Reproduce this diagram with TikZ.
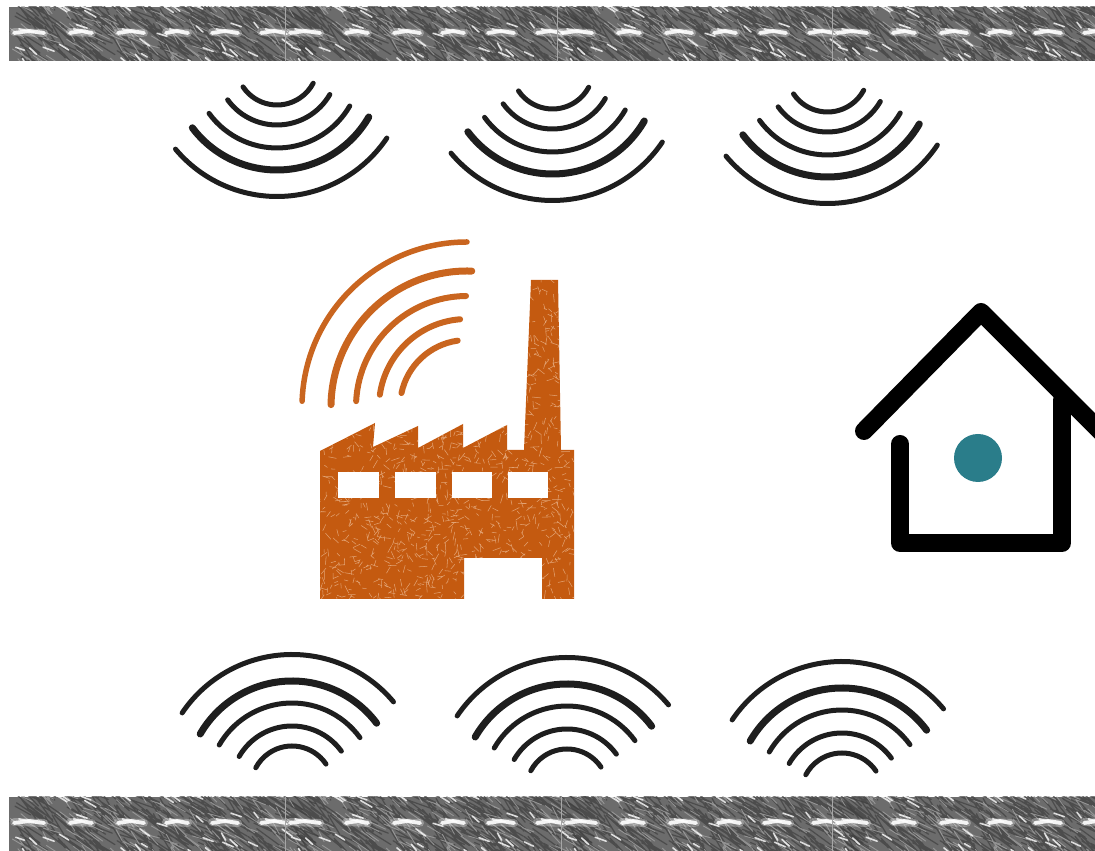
\documentclass[tikz,border=0pt]{standalone}
\definecolor{railgray}{HTML}{6C6C6C}
\definecolor{raildark}{HTML}{3F3F3F}
\definecolor{raillight}{HTML}{A6A6A6}
\definecolor{waveblack}{HTML}{1E1E1E}
\definecolor{factoryorange}{HTML}{C45A10}
\definecolor{factorylight}{HTML}{EDBB94}
\definecolor{waveorange}{HTML}{C9651F}
\definecolor{dotteal}{HTML}{2A7D8A}
\begin{document}
\begin{tikzpicture}[x=0.02cm, y=0.02cm, line join=round, line cap=round,
	streakdark/.style={raildark, line width=.7pt, opacity=.7},
	streaklight/.style={raillight, line width=.5pt, opacity=.75},
	streakwhite/.style={white, line width=.9pt, opacity=.8},
	houseline/.style={black, line width=18*0.02cm}]
	\useasboundingbox (0,0) rectangle (1095,851);
	% rails
	\foreach \ry/\sa/\sb/\sc in {790/285/557/832, 0/285/561/832} {
		\begin{scope}
			\clip (9,\ry) rectangle (1095,\ry+54);
			\fill[railgray] (9,\ry) rectangle (1095,\ry+54);
			\foreach \tx in {9,\sa,\sb,\sc} {
				\pgfmathsetseed{23}
				\draw[streakdark] foreach \i in {1,...,320} {({\tx+285*rnd},{\ry+70*rnd}) -- ++(-37:{14+26*rnd})};
				\draw[streaklight] foreach \i in {1,...,170} {({\tx+285*rnd},{\ry+65*rnd}) -- ++(-37:{6+16*rnd})};
				\draw[streakwhite] foreach \i in {1,...,30} {({\tx+285*rnd},{\ry+60*rnd}) -- ++(-35:{5+9*rnd})};
				\foreach \bx/\bw in {20/30,72/22,122/26,168/22,216/26,265/26} {
					\draw[white, line width=4.5pt, opacity=.3] ({\tx+\bx-\bw/2},\ry+29) -- ++({\bw},-1);
					\draw[white, line width=2.2pt, opacity=.9] ({\tx+\bx-\bw/2},\ry+28) -- ++({\bw/2},2) -- ++({\bw/2},-2);
					\draw[white, line width=1pt, opacity=.8] ({\tx+\bx-\bw/3},\ry+32) -- ++({\bw/2},-3);
				}
			}
		\end{scope}
		\foreach \tx in {\sa,\sb,\sc} \draw[raillight, line width=.5pt] (\tx,\ry) -- (\tx,\ry+54);
	}
	% waves over and under the rails
	\foreach \x/\y in {277/787,552.5/783,827.5/780} {
		\foreach \r/\a/\b/\w in {41/214/332/5,61/216/330/5,84/216/330/5,106/217/330/7,132.5/220/326/5}
			\draw[waveblack, line width=\w*0.02cm] (\x,\y) ++(\a:\r) arc (\a:\b:\r);
	}
	\foreach \x/\y in {292/64,567/61,842/57} {
		\foreach \r/\a/\b/\w in {41/34/152/5,61/36/150/5,84/36/150/5,106/37/150/7,132.5/40/146/5}
			\draw[waveblack, line width=\w*0.02cm] (\x,\y) ++(\a:\r) arc (\a:\b:\r);
	}
	% factory
	\begin{scope}
		\clip (320,252) -- (320,400) -- (375,428) -- (373,404) -- (418,425) -- (418,403) -- (463,427) -- (463,403)
			-- (507,426) -- (507,401) -- (524,401) -- (531,571) -- (558,571) -- (561,401) -- (574,401) -- (574,252)
			-- (542,252) -- (542,293) -- (464,293) -- (464,252) -- cycle;
		\fill[factoryorange] (310,240) rectangle (585,580);
		\pgfmathsetseed{5}
		\draw[factorylight, line width=.3pt, opacity=.75] foreach \i in {1,...,1600} {({320+255*rnd},{252+320*rnd}) -- ++({360*rnd}:{2+7*rnd})};
	\end{scope}
	\foreach \x/\w in {338/41,395/41,452/40,508/40} \fill[white] (\x,353) rectangle ++(\w,26);
	\foreach \r/\a/\b/\w in {67/168/98/6,88/172/94.5/6,111/177/90.5/6,136/179/88/7,165/178/90/5.5}
		\draw[waveorange, line width=\w*0.02cm] (467,444) ++(\a:\r) arc (\a:\b:\r);
	% house
	\path (864,420) coordinate (roofL)
		(981,539) coordinate (roofT)
		(1105,415) coordinate (roofR)
		(900,407) coordinate (wallL)
		(900,308) coordinate (cornerL)
		(1062,308) coordinate (cornerR)
		(1062,451) coordinate (wallR);
	\draw[houseline] (roofL)--(roofT)--(roofR);
	\draw[houseline] (wallL)--(cornerL)--(cornerR)--(wallR);
	\fill[dotteal] (978,393) circle (24);
\end{tikzpicture}
\end{document}
